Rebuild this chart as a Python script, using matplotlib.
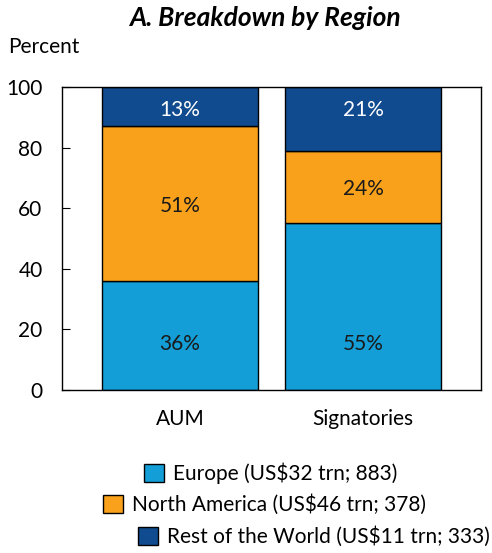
import matplotlib
matplotlib.use("Agg")
import matplotlib.pyplot as plt
from matplotlib.patches import Patch

plt.rcParams['font.family'] = ['Lato', 'DejaVu Sans']

categories = ["AUM", "Signatories"]
regions = ["Europe", "North America", "Rest of the World"]
legend_labels = ["Europe (US$32 trn; 883)", "North America (US$46 trn; 378)",
                 "Rest of the World (US$11 trn; 333)"]
europe = [36, 55]
north_america = [51, 24]
rest_world = [13, 21]
colors = ["#139ed8", "#f9a11b", "#114b8f"]
text_colors = ["#1a1a1a", "#1a1a1a", "white"]

FS = 15

fig = plt.figure(figsize=(4.92, 5.53), dpi=100)
ax = fig.add_axes([62/492, 1-390/553, (481-62)/492, (390-87)/553])

x = list(range(len(categories)))
series = [europe, north_america, rest_world]
n = len(series)
bottoms = [0]*len(categories)
for i, (vals, c, tc) in enumerate(zip(series, colors, text_colors)):
    bars = ax.bar(x, vals, width=0.852, bottom=bottoms, color=c, edgecolor="black", linewidth=1)
    for b, v, bt in zip(bars, vals, bottoms):
        if i == 0:
            ly = 16
        elif i == n - 1:
            ly = 93
        else:
            ly = bt + v/2
        ax.annotate(f"{v}%", (b.get_x()+b.get_width()/2, ly), xytext=(0, -1.5),
                    textcoords="offset points", ha="center", va="center",
                    color=tc, fontsize=FS)
    bottoms = [a+b for a, b in zip(bottoms, vals)]

ax.set_xlim(-0.645, 1.645)
ax.set_ylim(0, 100)
ax.set_yticks([0, 20, 40, 60, 80, 100])
ax.tick_params(axis='y', direction='in', length=6, pad=14, labelsize=FS)
ax.set_xticks(x)
ax.set_xticklabels(categories)
ax.tick_params(axis='x', length=0, pad=14, labelsize=FS)
for s in ax.spines.values():
    s.set_linewidth(1)
    s.set_color("black")

fig.text(265/492, 1-18/553, "A. Breakdown by Region", ha="center", va="center",
         fontsize=19, fontweight="bold", fontstyle="italic")
fig.text(8/492, 1-47/553, "Percent", ha="left", va="center", fontsize=FS)

rows = [(144, 473), (103, 505), (138, 537)]
for lab, c, (px, py) in zip(legend_labels, colors, rows):
    h = Patch(facecolor=c, edgecolor="black", linewidth=1)
    fig.legend([h], [lab], loc="center left", bbox_to_anchor=(px/492, 1-py/553),
               frameon=False, fontsize=FS, handlelength=0.95, handleheight=0.95,
               handletextpad=0.45, borderpad=0, borderaxespad=0)

fig.savefig("out.png", dpi=100)
